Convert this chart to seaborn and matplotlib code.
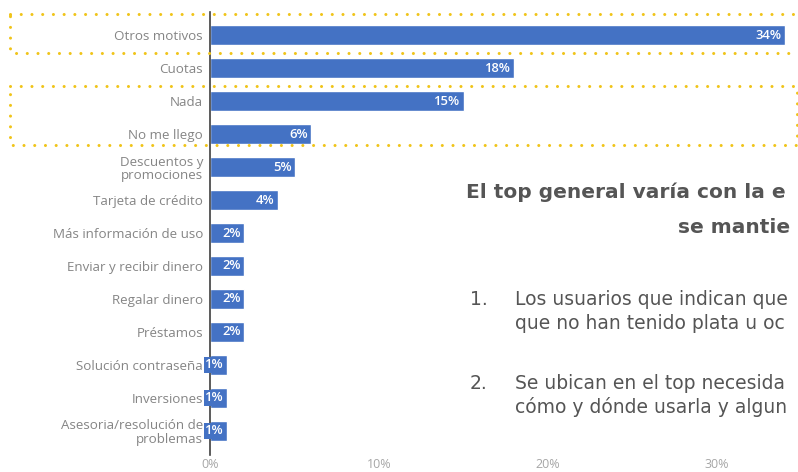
import matplotlib
matplotlib.use("Agg")
import matplotlib.pyplot as plt
from matplotlib.patches import Rectangle
from matplotlib.transforms import blended_transform_factory, offset_copy
import pandas as pd
import seaborn as sns

categories = [
    "Otros motivos", "Cuotas", "Nada", "No me llego", "Descuentos y\npromociones",
    "Tarjeta de crédito", "Más información de uso", "Enviar y recibir dinero",
    "Regalar dinero", "Préstamos", "Solución contraseña", "Inversiones",
    "Asesoria/resolución de\nproblemas",
]
values = [34, 18, 15, 6, 5, 4, 2, 2, 2, 2, 1, 1, 1]
x_ticks = [0, 10, 20, 30]
x_tick_labels = ["0%", "10%", "20%", "30%"]

# commentary fragments as they appear at the right border of the slide
title_lines = ["El top general varía con la e", "se mantie"]
points = [
    ("1.", ["Los usuarios que indican que", "que no han tenido plata u oc"]),
    ("2.", ["Se ubican en el top necesida", "cómo y dónde usarla y algun"]),
]

BLUE = "#4472C4"
GOLD = "#F0C419"

sns.set_theme(style="white")
plt.rcParams["font.family"] = ["Open Sans", "DejaVu Sans"]

df = pd.DataFrame({"motivo": categories, "pct": values})

W, H = 798, 472
fig = plt.figure(figsize=(W / 100, H / 100), dpi=100)
ax = fig.add_axes([210 / W, (H - 455) / H, 588 / W, 443 / H])

sns.barplot(data=df, x="pct", y="motivo", color=BLUE, saturation=1,
            width=0.6, ax=ax, orient="h")

ax.set_xlim(0, 588 / 16.9)
ax.set_ylim(12.73, -0.7)
ax.set_xlabel("")
ax.set_ylabel("")
ax.set_xticks(x_ticks)
ax.set_xticklabels(x_tick_labels, color="#A6A6A6", fontsize=9)
ax.tick_params(axis="x", length=0, pad=2.5)
ax.tick_params(axis="y", length=0, pad=5, labelsize=9.6, labelcolor="#858585")
for lab in ax.get_yticklabels():
    lab.set_linespacing(1.05)

for side in ["top", "right", "bottom"]:
    ax.spines[side].set_visible(False)
ax.spines["left"].set_color("#404040")
ax.spines["left"].set_linewidth(1.2)
ax.spines["left"].set_zorder(5)

# value labels at the end of each bar
lbl_tr = offset_copy(ax.transData, fig=fig, x=-3, y=0, units="dots")
for i, v in enumerate(values):
    ax.text(v, i, f"{v}%", transform=lbl_tr, ha="right", va="center",
            color="white", fontsize=9.4, fontweight="semibold", zorder=6,
            bbox=dict(boxstyle="square,pad=0.12", facecolor=BLUE, edgecolor="none"),
            clip_on=False)

# dotted highlight boxes around selected rows
tr = blended_transform_factory(fig.transFigure, ax.transData)
for y0, y1, x1 in [(-0.636, 0.545, 808), (1.545, 3.33, 797)]:
    rect = Rectangle((10 / W, y0), (x1 - 10) / W, y1 - y0, transform=tr,
                     fill=False, edgecolor=GOLD, linewidth=2.2,
                     linestyle=(0, (0.01, 3.5)), capstyle="round",
                     clip_on=False, zorder=7)
    fig.add_artist(rect)

# commentary text on the right
txt_color = "#555555"
side_font = ["DejaVu Sans"]
fig.text(466 / W, 1 - 198 / H, title_lines[0], fontsize=14.5, fontweight="bold",
         color=txt_color, family=side_font, va="baseline", ha="left")
fig.text(678 / W, 1 - 233 / H, title_lines[1], fontsize=14.5, fontweight="bold",
         color=txt_color, family=side_font, va="baseline", ha="left")

for (num, lines), y in zip(points, [305, 389]):
    fig.text(470 / W, 1 - y / H, num, fontsize=13.5, color=txt_color,
             family=side_font, va="baseline", ha="left")
    for k, line in enumerate(lines):
        fig.text(515 / W, 1 - (y + 24 * k) / H, line, fontsize=13.5,
                 color=txt_color, family=side_font, va="baseline", ha="left")

fig.savefig("out.png", dpi=100, facecolor="white")
